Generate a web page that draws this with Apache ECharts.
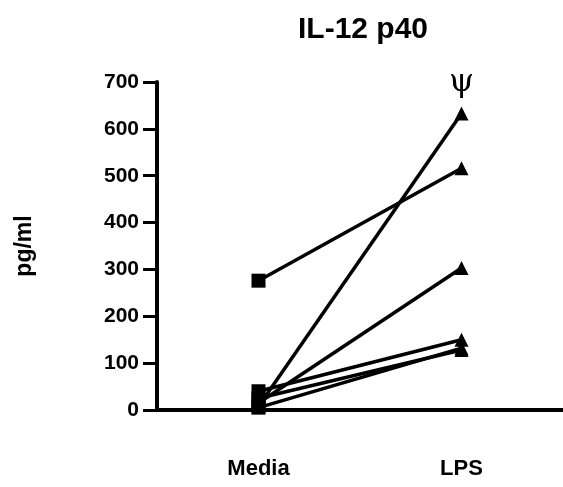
<!DOCTYPE html>
<html lang="en">
<head>
    <meta charset="UTF-8">
    <title>IL-12 p40</title>
    <script src="https://cdn.jsdelivr.net/npm/echarts@6/dist/echarts.min.js"></script>
    <style>
        html, body { margin: 0; padding: 0; background: #fff; }
        #chart { width: 563px; height: 487px; }
    </style>
</head>
<body>
    <div id="chart"></div>
    <script>
        // data
        const categories = ['Media', 'LPS'];
        const mediaValues = [276, 8, 15, 40, 25, 5];
        const lpsValues = [516, 633, 303, 150, 128, 132];
        const yTicks = [0, 100, 200, 300, 400, 500, 600, 700];
        const markText = 'ψ';   // significance mark above the highest LPS value

        const font = 'Liberation Sans, Arial, sans-serif';
        const topLps = Math.max(...lpsValues);

        // one line per donor: square at Media, triangle at LPS
        const series = mediaValues.map(function (m, i) {
            let lpsPoint = { value: lpsValues[i], symbol: 'triangle' };
            if (lpsValues[i] === topLps) {
                lpsPoint.label = {
                    show: true,
                    formatter: markText,
                    position: 'top',
                    distance: 8,
                    fontFamily: 'DejaVu Serif, Liberation Serif, serif',
                    fontSize: 32,
                    color: '#000'
                };
            }
            return {
                type: 'line',
                data: [{ value: m, symbol: 'rect' }, lpsPoint],
                symbolSize: 14,
                lineStyle: { color: '#000', width: 3.5 },
                itemStyle: { color: '#000' },
                emphasis: { disabled: true },
                z: 3
            };
        });

        let myChart = echarts.init(document.getElementById('chart'));

        let option = {
            animation: false,
            title: {
                text: 'IL-12 p40',
                left: 293,
                top: 10,
                textStyle: { fontFamily: font, fontSize: 30, fontWeight: 'bold', color: '#000' }
            },
            grid: {
                left: 157,
                top: 82,
                width: 412,
                height: 328
            },
            xAxis: {
                type: 'category',
                data: categories,
                boundaryGap: true,
                axisLine: { lineStyle: { color: '#000', width: 4 } },
                axisTick: { alignWithLabel: true, length: 7, lineStyle: { color: '#000', width: 3 } },
                axisLabel: { fontFamily: font, fontSize: 22, fontWeight: 'bold', color: '#000', margin: 48 },
                splitLine: { show: false }
            },
            yAxis: {
                type: 'value',
                min: yTicks[0],
                max: yTicks[yTicks.length - 1],
                interval: 100,
                name: 'pg/ml',
                nameLocation: 'middle',
                nameRotate: 90,
                nameGap: 121,
                nameTextStyle: { fontFamily: font, fontSize: 23, fontWeight: 'bold', color: '#000' },
                axisLine: { show: true, lineStyle: { color: '#000', width: 4 } },
                axisTick: { show: true, length: 14, lineStyle: { color: '#000', width: 3 } },
                axisLabel: { fontFamily: font, fontSize: 21, fontWeight: 'bold', color: '#000', margin: 18 },
                splitLine: { show: false }
            },
            series: series
        };

        myChart.setOption(option);
    </script>
</body>
</html>
